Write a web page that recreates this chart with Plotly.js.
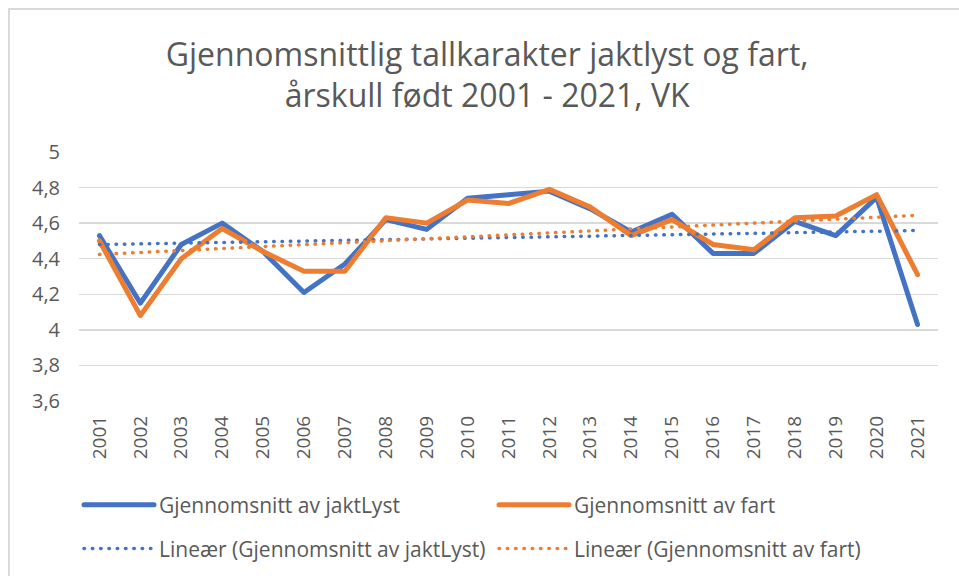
<!DOCTYPE html>
<html>
<head>
<meta charset="utf-8">
<script src="https://cdn.plot.ly/plotly-3.0.1.min.js"></script>
<style>
  html, body { margin: 0; padding: 0; background: #ffffff; }
  #frame { position: absolute; left: 8px; top: 8px; width: 1000px; height: 1000px;
           border-left: 2px solid #d9d9d9; border-top: 2px solid #d9d9d9; box-sizing: border-box; }
  #chart { position: absolute; left: 0; top: 0; width: 959px; height: 576px; }
  #chart .js-line { stroke-linecap: round; stroke-linejoin: round; }
</style>
</head>
<body>
<div id="frame"></div>
<div id="chart"></div>
<script>
// Categories (birth year cohorts)
const years = ["2001","2002","2003","2004","2005","2006","2007","2008","2009","2010","2011",
               "2012","2013","2014","2015","2016","2017","2018","2019","2020","2021"];

// Average scores
const jaktLyst = [4.53, 4.15, 4.48, 4.60, 4.44, 4.21, 4.37, 4.62, 4.565, 4.74, 4.76,
                  4.78, 4.68, 4.55, 4.65, 4.43, 4.43, 4.61, 4.53, 4.745, 4.03];
const fart     = [4.50, 4.08, 4.40, 4.57, 4.44, 4.33, 4.33, 4.63, 4.60, 4.73, 4.71,
                  4.79, 4.69, 4.53, 4.62, 4.48, 4.45, 4.63, 4.64, 4.76, 4.31];

// Y-axis ticks
const yTicks = [3.6, 3.8, 4.0, 4.2, 4.4, 4.6, 4.8, 5.0];

// Least-squares linear trend (as Excel's "Lineær" trendline)
function linearTrend(vals) {
  const n = vals.length;
  let sx = 0, sy = 0, sxx = 0, sxy = 0;
  vals.forEach((v, i) => { sx += i; sy += v; sxx += i * i; sxy += i * v; });
  const b = (n * sxy - sx * sy) / (n * sxx - sx * sx);
  const a = (sy - b * sx) / n;
  return vals.map((v, i) => a + b * i);
}

const blue = "#4472C4", orange = "#ED7D31", grey = "#595959";
const dotDash = "0.5px,7.8px";
const fam = "'Open Sans', 'Noto Sans', sans-serif";

const traces = [
  { x: years, y: jaktLyst, type: "scatter", mode: "lines", name: "Gjennomsnitt av jaktLyst",
    line: { color: blue, width: 5 }, legend: "legend" },
  { x: years, y: fart, type: "scatter", mode: "lines", name: "Gjennomsnitt av fart",
    line: { color: orange, width: 5 }, legend: "legend" },
  { x: years, y: linearTrend(jaktLyst), type: "scatter", mode: "lines",
    name: "Lineær (Gjennomsnitt av jaktLyst)",
    line: { color: blue, width: 3.5, dash: dotDash }, legend: "legend2" },
  { x: years, y: linearTrend(fart), type: "scatter", mode: "lines",
    name: "Lineær (Gjennomsnitt av fart)",
    line: { color: orange, width: 3.5, dash: dotDash }, legend: "legend2" }
];

const legendBase = {
  orientation: "h", xref: "paper", yref: "paper", x: 0, xanchor: "left", yanchor: "middle",
  entrywidth: 330, entrywidthmode: "pixels", itemwidth: 70,
  font: { family: fam, color: grey, size: 21 },
  bgcolor: "rgba(0,0,0,0)", traceorder: "normal"
};

const layout = {
  width: 959, height: 576,
  paper_bgcolor: "rgba(0,0,0,0)", plot_bgcolor: "rgba(0,0,0,0)",
  separators: ", ",
  font: { family: fam, color: grey },
  margin: { l: 79, r: 21, t: 152, b: 175, autoexpand: false },
  title: {
    text: "Gjennomsnittlig tallkarakter jaktlyst og fart,<br>årskull født 2001 - 2021, VK",
    font: { family: fam, size: 32, color: grey },
    x: 0.508, xanchor: "center", xref: "container",
    y: 0.886, yanchor: "top", yref: "container"
  },
  xaxis: {
    type: "category", range: [-0.5, 20.5], tickangle: -90, showgrid: false, zeroline: false,
    showline: false, ticks: "", ticklabelstandoff: 10, automargin: false,
    tickfont: { family: fam, size: 19, color: grey },
    fixedrange: true
  },
  yaxis: {
    range: [3.6, 5.0], tickmode: "array", tickvals: yTicks,
    ticktext: yTicks.map(v => String(+v.toFixed(1)).replace(".", ",")),
    showgrid: true, gridcolor: "#d9d9d9", gridwidth: 1.5, zeroline: false,
    showline: false, ticks: "", ticklabelstandoff: 18, automargin: false,
    tickfont: { family: fam, size: 20, color: grey },
    fixedrange: true
  },
  showlegend: true,
  legend: Object.assign({}, legendBase, { y: -0.418 }),
  legend2: Object.assign({}, legendBase, { y: -0.594 })
};

Plotly.newPlot("chart", traces, layout, { displayModeBar: false, staticPlot: true });
</script>
</body>
</html>
